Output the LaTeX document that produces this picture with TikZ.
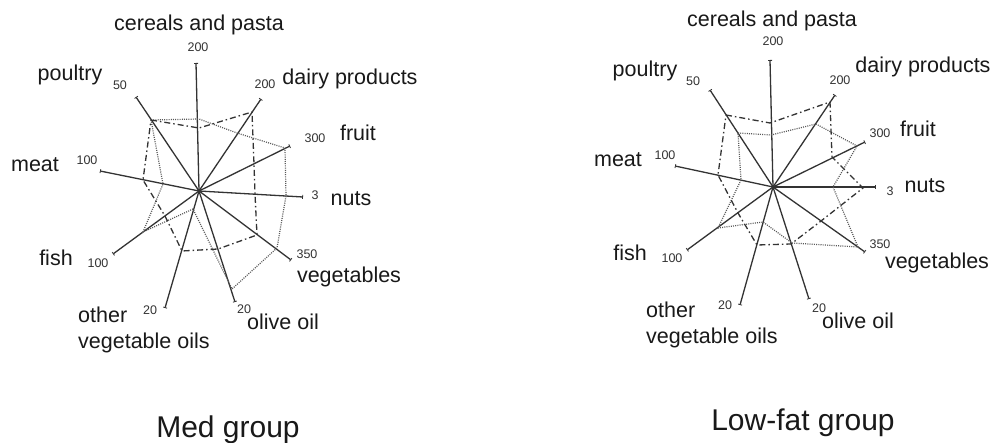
\documentclass[tikz,border=0pt]{standalone}
\usepackage{fontspec}
\setmainfont{Liberation Sans}
\usetikzlibrary{arrows.meta}
\begin{document}
\begin{tikzpicture}[x=1pt,y=-1pt,
  axisline/.style={line width=1.3pt,draw=black!80,-{Bar[width=4pt,line width=0.8pt]}},
  dotser/.style={line width=1.2pt,draw=black!65,dash pattern=on 1pt off 1.2pt},
  dashdotser/.style={line width=1.3pt,draw=black!80,dash pattern=on 6pt off 3pt on 1.5pt off 3pt},
  cat/.style={font=\fontsize{21.5}{25}\selectfont,text=black!90,inner sep=0pt,anchor=mid},
  val/.style={font=\fontsize{12.5}{14}\selectfont,text=black!80,inner sep=0pt,anchor=mid},
  ttl/.style={font=\fontsize{30}{34}\selectfont,text=black!90,inner sep=0pt,anchor=base}]
\useasboundingbox[fill=white] (0,0) rectangle (996,443);

% ---------------- Med group ----------------
\coordinate (mC) at (199,191);
\coordinate (mCer) at (196,63);
\coordinate (mDai) at (261,99);
\coordinate (mFru) at (290,146);
\coordinate (mNut) at (303,197);
\coordinate (mVeg) at (291,260);
\coordinate (mOli) at (235,302);
\coordinate (mOth) at (165,308);
\coordinate (mFis) at (113,254);
\coordinate (mMea) at (100,171);
\coordinate (mPou) at (136,97);
\foreach \e in {mCer,mDai,mFru,mNut,mVeg,mOli,mOth,mFis,mMea,mPou}
  \draw[axisline] (mC) -- (\e);

\draw[dotser] (151,120) -- (199,119) -- (237,133) -- (285,148) -- (286,196)
  -- (277,248) -- (232,289) -- (193,209) -- (143,232) -- (163,184) -- cycle;
\draw[dashdotser] (151,120) -- (199,128) -- (252,112) -- (254,164) -- (255,194)
  -- (257,235) -- (218,249) -- (182,251) -- (165,216) -- (143,180) -- cycle;

\node[val] (mvCer) at (198,49) {200};
\node[val] (mvPou) at (120,87) {50};
\node[val] (mvDai) at (265,86) {200};
\node[val] (mvFru) at (315,140) {300};
\node[val] (mvNut) at (315,197) {3};
\node[val] (mvMea) at (87,162) {100};
\node[val] (mvVeg) at (307,256) {350};
\node[val] (mvOli) at (244,311) {20};
\node[val] (mvOth) at (150,312) {20};
\node[val] (mvFis) at (98,265) {100};

\node[cat] (mlCer) at (199,28) {cereals and pasta};
\node[cat] (mlPou) at (70,78) {poultry};
\node[cat] (mlDai) at (350,82) {dairy products};
\node[cat] (mlFru) at (358,138) {fruit};
\node[cat] (mlMea) at (35,169) {meat};
\node[cat] (mlNut) at (351,203) {nuts};
\node[cat] (mlFis) at (56,263) {fish};
\node[cat] (mlVeg) at (349,280) {vegetables};
\node[cat] (mlOli) at (283,327) {olive oil};
\node[cat,anchor=north west,align=left,font=\fontsize{21.5}{25.5}\selectfont] (mlOth) at (78,307) {other\\vegetable oils};

\node[ttl] (mTitle) at (228,437) {Med group};

% ---------------- Low-fat group ----------------
\coordinate (lC) at (773,187);
\coordinate (lCer) at (770,60);
\coordinate (lDai) at (835,95);
\coordinate (lFru) at (865,142);
\coordinate (lNut) at (876,187);
\coordinate (lVeg) at (865,252);
\coordinate (lOli) at (809,299);
\coordinate (lOth) at (740,305);
\coordinate (lFis) at (687,250);
\coordinate (lMea) at (675,166);
\coordinate (lPou) at (710,90);
\foreach \e in {lCer,lDai,lFru,lNut,lVeg,lOli,lOth,lFis,lMea,lPou}
  \draw[axisline] (lC) -- (\e);

\draw[dotser] (738,133) -- (771,135) -- (816,124) -- (857,146) -- (833,187)
  -- (858,247) -- (792,243) -- (763,222) -- (718,228) -- (741,180) -- cycle;
\draw[dashdotser] (726,115) -- (770,123) -- (830,102) -- (832,157) -- (863,188)
  -- (821,221) -- (791,244) -- (757,245) -- (738,213) -- (718,175) -- cycle;

\node[val] (lvCer) at (773,43) {200};
\node[val] (lvPou) at (693,83) {50};
\node[val] (lvDai) at (840,82) {200};
\node[val] (lvFru) at (880,135) {300};
\node[val] (lvNut) at (890,193) {3};
\node[val] (lvMea) at (665,157) {100};
\node[val] (lvFis) at (672,260) {100};
\node[val] (lvVeg) at (880,246) {350};
\node[val] (lvOth) at (725,307) {20};
\node[val] (lvOli) at (819,310) {20};

\node[cat] (llCer) at (772,24) {cereals and pasta};
\node[cat] (llPou) at (645,74) {poultry};
\node[cat] (llDai) at (923,70) {dairy products};
\node[cat] (llFru) at (918,134) {fruit};
\node[cat] (llMea) at (618,164) {meat};
\node[cat] (llNut) at (925,190) {nuts};
\node[cat] (llFis) at (630,258) {fish};
\node[cat] (llVeg) at (937,266) {vegetables};
\node[cat] (llOli) at (858,326) {olive oil};
\node[cat,anchor=north west,align=left,font=\fontsize{21.5}{25.5}\selectfont] (llOth) at (646,302) {other\\vegetable oils};

\node[ttl] (lTitle) at (803,431) {Low-fat group};
\end{tikzpicture}
\end{document}
